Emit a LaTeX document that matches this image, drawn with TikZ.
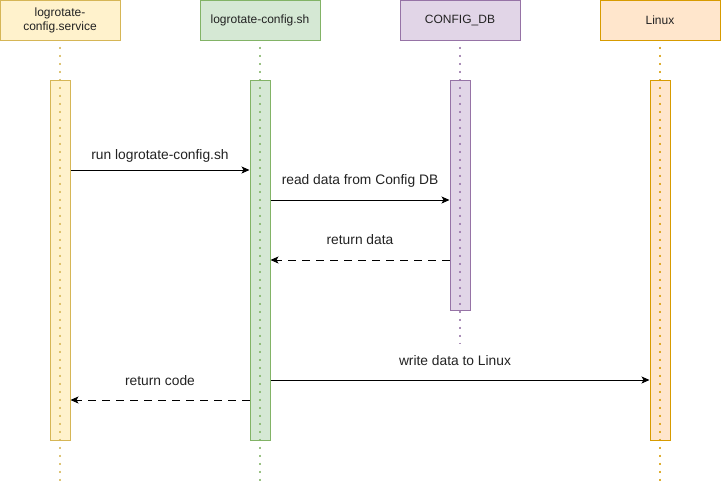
\documentclass[tikz,border=0pt]{standalone}
\usepackage{fontspec}
\setmainfont{Liberation Sans}
\usetikzlibrary{arrows.meta}
\definecolor{yfill}{HTML}{FFF2CC}\definecolor{ydraw}{HTML}{D6B656}
\definecolor{gfill}{HTML}{D5E8D4}\definecolor{gdraw}{HTML}{82B366}
\definecolor{pfill}{HTML}{E1D5E7}\definecolor{pdraw}{HTML}{9673A6}
\definecolor{ofill}{HTML}{FFE6CC}\definecolor{odraw}{HTML}{D79B00}
\definecolor{txt}{HTML}{222222}
\begin{document}
\begin{tikzpicture}[x=1pt,y=-1pt,
  font=\fontsize{12}{14}\selectfont,
  head/.style={draw=#1, line width=1pt, minimum width=120pt, minimum height=40pt, inner sep=0pt, align=center, text=txt},
  act/.style={draw=#1, line width=1pt, minimum width=20pt, inner sep=0pt},
  life/.style={draw=#1, draw opacity=0.8, line width=2.2pt, dash pattern=on 2pt off 6pt, dash phase=2pt},
  msg/.style={draw=black, line width=0.8pt, -{Stealth[length=8pt,width=7pt,inset=2pt]}},
  ret/.style={msg, dash pattern=on 8pt off 6pt},
  lbl/.style={text=txt, inner sep=0pt, anchor=base, font=\fontsize{13.8}{16}\selectfont}]
\useasboundingbox (0,0) rectangle (721,483);
% headers
\node[head=ydraw, fill=yfill] (h1) at (60,20) {logrotate-\\config.service};
\node[head=gdraw, fill=gfill] (h2) at (260,20) {logrotate-config.sh};
\node[head=pdraw, fill=pfill] (h3) at (460,20) {CONFIG\_DB};
\node[head=odraw, fill=ofill] (h4) at (660,20) {Linux};
% lifeline end points
\coordinate (e1) at (60,482);
\coordinate (e2) at (260,482);
\coordinate (e3) at (460,344);
\coordinate (e4) at (660,482);
% activation boxes
\node[act=ydraw, fill=yfill, minimum height=360pt] (a1) at (60,260) {};
\node[act=gdraw, fill=gfill, minimum height=360pt] (a2) at (260,260) {};
\node[act=pdraw, fill=pfill, minimum height=230pt] (a3) at (460,195) {};
\node[act=odraw, fill=ofill, minimum height=360pt] (a4) at (660,260) {};
% lifelines
\draw[life=ydraw] (h1.south) -- (e1);
\draw[life=gdraw] (h2.south) -- (e2);
\draw[life=pdraw] (h3.south) -- (e3);
\draw[life=odraw] (h4.south) -- (e4);
% messages
\draw[msg] (a1.east |- 0,170) -- (a2.west |- 0,170);
\node[lbl] (l1) at (160,159) {run logrotate-config.sh};
\draw[msg] (a2.east |- 0,200) -- (a3.west |- 0,200);
\node[lbl] (l2) at (360,184) {read data from Config DB};
\draw[ret] (a3.west |- 0,260) -- (a2.east |- 0,260);
\node[lbl] (l3) at (360,244) {return data};
\draw[msg] (a2.east |- 0,380) -- (a4.west |- 0,380);
\node[lbl] (l4) at (455,365) {write data to Linux};
\draw[ret] (a2.west |- 0,400) -- (a1.east |- 0,400);
\node[lbl] (l5) at (160,385) {return code};
\end{tikzpicture}
\end{document}
